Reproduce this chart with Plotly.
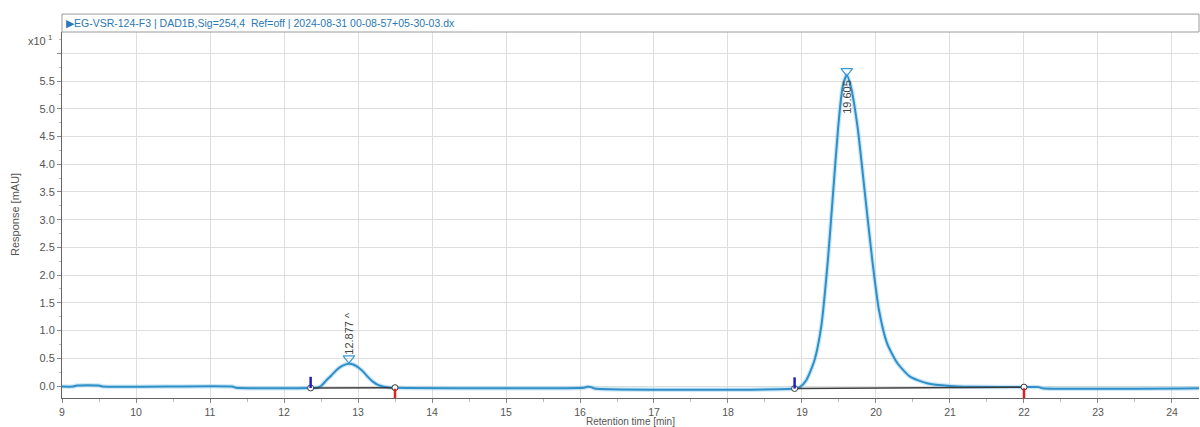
import plotly.graph_objects as go

# ---- data ----
time_min = [9.00, 9.15, 9.20, 9.50, 9.55, 11.30, 11.35, 12.36, 12.44, 12.50, 12.57, 12.64, 12.71, 12.78,
            12.877, 12.95, 13.01, 13.07, 13.13, 13.20, 13.27, 13.34, 13.42, 13.50, 16.05, 16.10, 16.15,
            16.20, 18.90, 18.97, 19.06, 19.17, 19.26, 19.35, 19.42, 19.49, 19.55, 19.605, 19.66, 19.75,
            19.85, 19.95, 20.04, 20.15, 20.29, 20.46, 20.69, 21.00, 21.30, 22.00, 22.20, 22.25, 24.40]
response = [-0.01, -0.01, 0.01, 0.01, -0.01, -0.01, -0.03, -0.035, -0.03, 0.00, 0.10, 0.19, 0.29, 0.36,
            0.40, 0.38, 0.33, 0.26, 0.17, 0.08, 0.02, -0.01, -0.025, -0.03, -0.03, -0.015, -0.02,
            -0.045, -0.045, -0.02, 0.11, 0.47, 1.07, 2.27, 3.48, 4.68, 5.40, 5.61, 5.40, 4.68,
            3.48, 2.27, 1.37, 0.77, 0.41, 0.17, 0.05, 0.00, -0.015, -0.02, -0.02, -0.04, -0.04]

peak_rt = [12.877, 19.605]
peak_marker_y = [0.50, 5.68]
peak_labels = ["12.877 ^", "19.605"]
peak_label_y = [0.96, 5.21]

int_start_t = [12.36, 18.90]
int_start_v = [-0.035, -0.045]
int_end_t = [13.50, 22.00]
int_end_v = [-0.03, -0.02]

x_ticks = list(range(9, 25))
y_ticks = [0.0, 0.5, 1.0, 1.5, 2.0, 2.5, 3.0, 3.5, 4.0, 4.5, 5.0, 5.5, 6.0]
y_tick_text = ["0.0", "0.5", "1.0", "1.5", "2.0", "2.5", "3.0", "3.5", "4.0", "4.5", "5.0", "5.5", ""]

title_text = "▶EG-VSR-124-F3 | DAD1B,Sig=254,4  Ref=off | 2024-08-31 00-08-57+05-30-03.dx"

FONT = "Liberation Sans, Arial, sans-serif"
fig = go.Figure()

# halo + core signal line
fig.add_trace(go.Scatter(x=time_min, y=response, mode="lines",
                         line=dict(color="rgba(130,195,232,0.40)", width=4.5, shape="spline", smoothing=0.6),
                         hoverinfo="skip", showlegend=False))
fig.add_trace(go.Scatter(x=time_min, y=response, mode="lines",
                         line=dict(color="#2f8fc8", width=2, shape="spline", smoothing=0.6),
                         showlegend=False))

# integration baselines
for s_t, s_v, e_t, e_v in zip(int_start_t, int_start_v, int_end_t, int_end_v):
    fig.add_trace(go.Scatter(x=[s_t, e_t], y=[s_v, e_v], mode="lines+markers",
                             line=dict(color="#3c3c3c", width=1.5),
                             marker=dict(symbol="circle", size=6, color="white",
                                         line=dict(color="#3c3c3c", width=1)),
                             showlegend=False))
# start (blue) and end (red) event ticks
fig.add_trace(go.Scatter(x=int_start_t, y=[v + 0.1 for v in int_start_v], mode="markers",
                         marker=dict(symbol="line-ns", size=8, line=dict(color="#2020c0", width=2.5)),
                         showlegend=False))
fig.add_trace(go.Scatter(x=int_end_t, y=[v - 0.12 for v in int_end_v], mode="markers",
                         marker=dict(symbol="line-ns", size=8, line=dict(color="#e02020", width=2.5)),
                         showlegend=False))

# peak apex markers
fig.add_trace(go.Scatter(x=peak_rt, y=peak_marker_y, mode="markers",
                         marker=dict(symbol="triangle-down-open", size=10, color="#3a9ad9",
                                     line=dict(width=1.3)),
                         showlegend=False))

for rt, ly, lab in zip(peak_rt, peak_label_y, peak_labels):
    fig.add_annotation(x=rt, y=ly, text=lab, textangle=-90, showarrow=False,
                       font=dict(family=FONT, size=11, color="#444444"))

# header box
fig.add_shape(type="rect", xref="paper", yref="paper", x0=0, x1=1, y0=1.0, y1=1.049,
              line=dict(color="#9a9a9a", width=1), fillcolor="white")
fig.add_annotation(xref="paper", yref="paper", x=0, y=1.0246, xanchor="left", yanchor="middle",
                   xshift=2, text=title_text, showarrow=False,
                   font=dict(family=FONT, size=10.5, color="#2a78b4"))

# x10^1 exponent label
fig.add_annotation(xref="paper", yref="paper", x=0, y=0.978, xanchor="right", yanchor="middle",
                   xshift=-8, text="x10<sup> 1</sup>", showarrow=False,
                   font=dict(family=FONT, size=11, color="#555555"))

# axis titles
fig.add_annotation(xref="paper", yref="paper", x=0, y=0.5, xanchor="center", yanchor="middle",
                   xshift=-47, text="Response [mAU]", textangle=-90, showarrow=False,
                   font=dict(family=FONT, size=11, color="#555555"))
fig.add_annotation(xref="paper", yref="paper", x=0.5, y=0, xanchor="center", yanchor="top",
                   yshift=-16, text="Retention time [min]", showarrow=False,
                   font=dict(family=FONT, size=10, color="#555555"))

fig.update_xaxes(range=[9, 24.365], tickvals=x_ticks, showgrid=True, gridcolor="#dedede", gridwidth=1,
                 showline=True, linecolor="#666666", linewidth=1, ticks="outside", ticklen=4,
                 tickcolor="#888888", zeroline=False,
                 minor=dict(dtick=0.5, ticklen=3, tickcolor="#bbbbbb", showgrid=False),
                 tickfont=dict(family=FONT, size=10.5, color="#555555"))
fig.update_yaxes(range=[-0.216, 6.384], tickvals=y_ticks, ticktext=y_tick_text, showgrid=True,
                 gridcolor="#dedede", gridwidth=1, showline=True, linecolor="#666666", linewidth=1,
                 ticks="outside", ticklen=4, tickcolor="#888888", zeroline=False,
                 minor=dict(dtick=0.25, ticklen=2, tickcolor="#bbbbbb", showgrid=False),
                 tickfont=dict(family=FONT, size=11, color="#555555"))

fig.update_layout(width=1200, height=427, margin=dict(l=62, r=1, t=32, b=29),
                  plot_bgcolor="white", paper_bgcolor="white", showlegend=False,
                  font=dict(family=FONT))

fig.write_html("out.html", config={"displayModeBar": False},
               post_script="document.body.style.margin='0';document.body.style.overflow='hidden';")
